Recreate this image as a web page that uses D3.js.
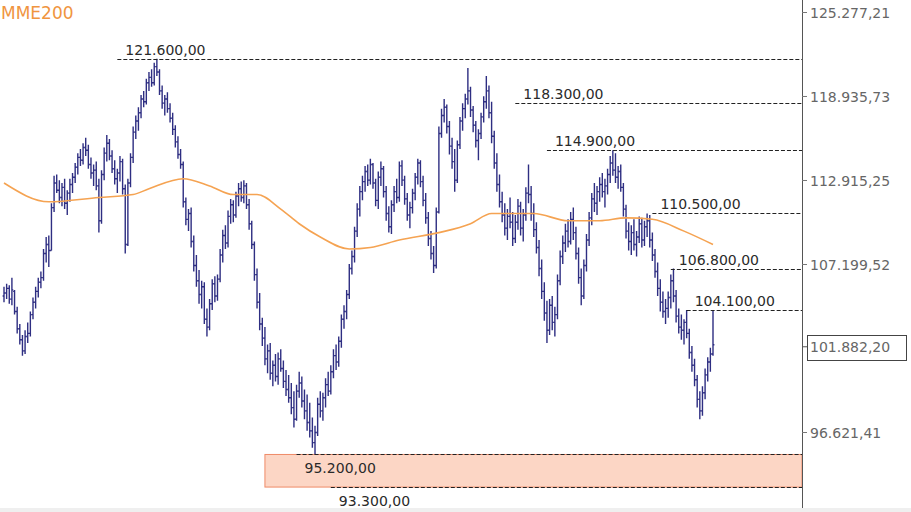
<!DOCTYPE html>
<html><head><meta charset="utf-8">
<script src="https://cdn.jsdelivr.net/npm/d3@7"></script>
<style>body{margin:0;background:#fff}svg{display:block}</style>
</head><body><svg id="c" width="911" height="512"></svg>
<script>
// OHLC values in thousands of points
const high=[105.6,105.8,105.7,106.2,105.4,104.3,103.2,102.5,102.8,103.3,
104.0,104.9,105.6,106.2,106.6,108.1,108.9,109.0,111.2,113.1,
113.2,112.8,112.6,112.9,112.1,112.9,113.3,114.0,114.7,115.0,
115.4,115.8,115.3,114.4,113.9,114.1,112.9,113.5,115.1,116.0,
115.7,114.9,114.2,113.6,114.5,114.3,112.5,112.9,114.7,116.6,
117.4,118.0,118.9,119.2,120.1,120.6,120.8,121.3,121.6,120.8,
119.6,118.9,119.1,118.3,117.6,116.7,115.9,115.0,114.1,111.6,
110.8,110.9,109.0,107.7,106.7,106.0,105.9,104.2,104.8,106.1,
106.3,106.4,108.1,109.4,109.7,110.7,111.5,111.4,112.0,112.6,
112.7,112.8,112.6,111.5,110.0,108.6,106.8,105.2,103.6,103.0,
101.9,102.0,100.9,101.3,101.4,101.6,100.9,100.3,100.0,99.5,
99.0,99.4,100.2,99.9,99.1,98.8,98.3,97.4,96.9,98.6,
99.0,98.9,99.8,100.2,100.6,101.6,101.9,102.4,103.8,104.4,
105.4,107.1,108.0,109.6,111.2,112.4,113.1,113.8,113.9,114.3,
114.0,112.9,113.4,114.1,113.8,112.4,111.0,111.4,112.4,112.9,
114.1,114.2,113.1,111.9,111.3,112.2,113.3,114.3,114.2,113.1,
111.9,110.6,109.3,108.3,110.9,116.6,117.9,118.6,118.2,117.0,
115.8,115.0,115.6,117.3,118.3,119.0,120.9,119.5,118.1,117.0,
116.4,117.6,118.8,120.3,119.6,118.4,116.3,114.7,113.2,112.0,
111.2,110.8,111.6,110.6,110.4,111.5,111.3,110.8,112.3,113.9,
112.4,111.2,109.9,108.7,107.4,105.9,104.7,104.8,105.0,104.3,
106.4,108.0,109.0,109.8,110.1,110.6,110.9,109.6,108.2,106.8,
107.4,109.1,110.6,111.9,112.6,112.4,113.0,113.3,112.9,113.6,
114.5,114.9,114.7,113.8,113.9,112.6,111.1,109.9,109.7,110.1,
109.3,110.3,110.2,110.0,110.5,110.4,109.2,108.1,107.2,106.1,
105.3,104.8,105.3,106.4,106.8,105.4,104.2,103.8,103.5,104.1,
102.9,101.8,101.0,100.0,99.0,99.3,100.4,101.1,101.7,104.1];
const low=[104.6,104.8,104.5,104.4,103.8,102.6,101.9,101.2,101.3,102.0,
102.4,103.5,104.2,104.9,105.5,106.0,107.2,106.9,108.0,110.6,
111.9,111.2,111.0,110.8,110.4,111.3,111.9,112.6,113.2,113.8,
113.9,114.5,113.6,112.9,112.4,112.1,109.2,109.8,112.8,114.1,
114.2,113.3,112.5,111.9,112.7,111.8,107.8,108.3,112.3,114.0,
115.7,116.3,117.2,118.0,118.2,119.2,119.5,119.6,120.3,118.9,
117.9,117.4,117.6,116.9,116.0,115.1,114.3,113.6,110.9,109.7,
109.3,108.2,106.6,105.6,104.5,104.2,103.2,102.4,102.8,104.1,
104.6,104.7,105.9,107.2,108.1,108.2,109.8,109.9,110.2,111.0,
111.3,111.2,110.8,109.4,108.1,106.0,104.2,102.8,101.8,100.6,
100.1,99.7,99.3,99.6,99.4,100.2,99.2,98.7,98.3,97.6,
96.8,97.2,98.6,98.0,97.3,96.6,96.2,95.6,95.2,96.3,
97.4,97.2,98.0,98.7,98.8,99.8,100.3,100.5,101.7,102.9,
103.5,104.8,106.4,107.2,108.9,110.3,111.4,112.0,112.4,112.5,
112.2,111.0,110.8,112.4,111.6,110.0,109.2,109.1,110.6,111.2,
111.3,112.4,111.1,110.0,109.5,110.5,111.4,112.5,112.3,111.0,
109.8,108.3,107.4,106.5,106.8,110.5,115.8,116.9,116.1,114.6,
113.6,112.0,112.6,115.0,116.3,117.2,118.2,117.3,116.2,115.1,
114.2,115.7,116.9,117.9,117.2,115.4,113.6,112.0,110.9,109.9,
109.0,108.7,109.5,108.3,108.5,109.4,109.0,108.6,110.0,111.2,
110.0,108.9,107.8,106.3,104.8,103.4,102.0,102.5,102.8,102.4,
103.5,105.7,107.1,107.9,108.2,108.4,108.7,107.4,105.8,104.4,
104.8,106.6,108.3,109.7,110.6,110.4,111.3,111.6,110.9,111.8,
112.6,113.1,112.6,112.2,112.0,110.3,108.8,108.0,107.7,108.0,
107.6,108.5,108.2,108.3,108.9,108.2,107.3,106.2,105.0,104.0,
103.6,103.2,103.6,104.2,104.6,103.3,102.6,102.2,101.9,102.3,
101.0,100.2,99.3,98.0,97.3,97.5,98.5,99.6,100.2,101.2];
const open=[105.0,105.2,105.5,104.8,105.3,104.0,102.9,102.2,101.5,102.4,
102.6,103.8,104.6,105.3,105.9,106.2,107.8,108.4,108.0,110.9,
112.6,112.1,111.6,112.3,111.2,111.9,112.5,113.0,113.7,114.4,
114.2,115.1,114.9,113.9,113.3,113.5,112.4,110.0,113.2,114.7,
115.4,114.5,113.6,112.9,113.3,114.1,112.2,108.4,112.6,114.4,
116.2,117.0,117.6,118.6,118.4,119.8,120.2,119.8,121.0,120.6,
119.2,118.3,118.6,117.9,117.2,116.4,115.5,114.6,113.9,111.3,
110.1,110.5,108.6,107.0,106.0,105.1,105.6,103.5,103.0,104.5,
105.8,105.0,106.1,107.7,109.0,108.5,110.3,111.1,110.4,111.7,
112.2,111.6,112.4,111.1,109.8,108.4,106.4,104.6,103.2,102.3,
101.0,101.5,100.1,100.6,99.9,101.0,100.4,99.6,99.1,98.6,
98.0,97.3,99.0,99.5,98.4,97.8,97.1,96.6,95.9,96.5,
98.2,97.8,98.6,99.4,99.0,100.2,101.2,100.8,102.1,103.5,
104.0,105.1,106.8,107.6,109.3,110.8,112.0,112.7,113.4,112.8,
113.9,112.6,111.4,113.0,113.6,112.0,110.5,109.6,111.1,112.0,
111.6,113.8,112.8,111.5,110.4,110.9,111.9,113.0,114.0,112.7,
111.4,110.2,108.8,107.8,107.0,110.6,116.1,117.4,118.0,116.6,
115.2,114.1,112.8,115.3,117.0,117.9,118.6,119.2,117.8,116.7,
115.6,116.1,117.3,118.4,119.2,117.6,115.9,114.0,112.5,111.3,
110.4,109.5,110.3,109.9,108.8,109.9,111.0,109.5,110.4,111.9,
111.8,110.5,109.4,108.2,106.8,105.3,103.9,102.8,104.4,103.3,
103.8,106.0,107.6,108.5,109.3,108.6,110.1,109.2,107.8,106.2,
105.0,107.0,108.7,110.2,111.5,111.2,112.0,112.5,112.0,112.4,
113.2,114.0,113.5,113.0,113.4,112.3,110.8,109.3,108.6,109.2,
108.4,108.9,109.8,108.7,109.6,110.0,108.7,107.7,106.6,105.5,
104.6,104.0,104.2,104.9,106.0,105.0,103.7,103.0,102.8,103.3,
102.6,101.4,100.6,99.7,98.5,97.8,98.9,100.0,100.8,101.3];
const close=[105.2,105.5,104.8,105.4,104.0,102.9,102.2,101.5,102.4,102.6,
103.8,104.6,105.3,105.9,106.2,107.8,108.4,108.0,110.9,112.6,
112.1,111.6,112.3,111.2,111.9,112.5,113.0,113.7,114.4,114.2,
115.1,114.9,113.9,113.3,113.5,112.4,110.0,113.2,114.7,115.4,
114.5,113.6,112.9,113.3,114.1,112.2,108.4,112.6,114.4,116.2,
117.0,117.6,118.6,118.4,119.8,120.2,119.8,121.0,120.6,119.2,
118.3,118.6,117.9,117.2,116.4,115.5,114.6,113.9,111.3,110.1,
110.5,108.6,107.0,106.0,105.1,105.6,103.5,103.0,104.5,105.8,
105.0,106.1,107.7,109.0,108.5,110.3,111.1,110.4,111.7,112.2,
111.6,112.4,111.1,109.8,108.4,106.4,104.6,103.2,102.3,101.0,
101.5,100.1,100.6,99.9,101.0,100.4,99.6,99.1,98.6,98.0,
97.3,99.0,99.5,98.4,97.8,97.1,96.6,95.9,96.5,98.2,
97.8,98.6,99.4,99.0,100.2,101.2,100.8,102.1,103.5,104.0,
105.1,106.8,107.6,109.3,110.8,112.0,112.7,113.4,112.8,113.9,
112.6,111.4,113.0,113.6,112.0,110.5,109.6,111.1,112.0,111.6,
113.8,112.8,111.5,110.4,110.9,111.9,113.0,114.0,112.7,111.4,
110.2,108.8,107.8,107.0,110.6,116.1,117.4,118.0,116.6,115.2,
114.1,112.8,115.3,117.0,117.9,118.6,119.2,117.8,116.7,115.6,
116.1,117.3,118.4,119.2,117.6,115.9,114.0,112.5,111.3,110.4,
109.5,110.3,109.9,108.8,109.9,111.0,109.5,110.4,111.9,111.8,
110.5,109.4,108.2,106.8,105.3,103.9,102.8,104.4,103.3,103.8,
106.0,107.6,108.5,109.3,108.6,110.1,109.2,107.8,106.2,105.0,
107.0,108.7,110.2,111.5,111.2,112.0,112.5,112.0,112.4,113.2,
114.0,113.5,113.0,113.4,112.3,110.8,109.3,108.6,109.2,108.4,
108.9,109.8,108.7,109.6,110.0,108.7,107.7,106.6,105.5,104.6,
104.0,104.2,104.9,106.0,105.0,103.7,103.0,102.8,103.3,102.6,
101.4,100.6,99.7,98.5,97.8,98.9,100.0,100.8,101.3,101.88];

// MME200 readings (bar index, value in thousands)
const mmeIdx=[0,17,36,49,55,68,78,87,96,105,112,120,131,139,150,165,177,185,201,214,226,236,246,258,269];
const mmeVal=[112.6,111.3,111.6,111.8,112.2,112.9,112.4,111.8,111.8,110.8,109.8,108.9,108.1,108.2,108.7,109.2,109.8,110.5,110.5,110.0,110.0,110.2,110.1,109.3,108.4];

const levels=[121600,118300,114900,110500,106800,104100,95200,93300];
const levelFrom=[43,194,206,246,253,259,111,124];
const levelBelow=[false,false,false,false,false,false,true,true];
const zoneVals=[95200,93300];
const zoneFrom=99;
const tickVals=[125277.21,118935.73,112915.25,107199.52,96621.41];
const lastPrice=101882.20;
const legendLabel="MME200";

const loc=d3.formatLocale({decimal:",",thousands:".",grouping:[3],currency:["R$",""]});
const fmt=loc.format(",.2f");

const svg=d3.select("#c");
const W=911,H=512,axisX=802;
const n=close.length;
const x=d3.scaleLinear().domain([0,n-1]).range([4,713]);
const y=d3.scaleLog().domain([96621.41,125277.21]).range([430.5,10.5]);
const K=1000;
const font="'DejaVu Sans', Verdana, sans-serif";

svg.append("rect").attr("x",0).attr("y",0).attr("width",W).attr("height",H).attr("fill","#fff");
svg.append("rect").attr("x",0).attr("y",508).attr("width",W).attr("height",4).attr("fill","#efefef");

// zone
svg.append("rect")
  .attr("x",x(zoneFrom)).attr("y",y(zoneVals[0]))
  .attr("width",axisX-x(zoneFrom)).attr("height",y(zoneVals[1])-y(zoneVals[0]))
  .attr("fill","#fcd6c5").attr("stroke","#ef8a68").attr("stroke-width",1);

// bars
const bars=svg.append("g").attr("stroke","#2e2e82").attr("stroke-width",1.4).attr("fill","none");
bars.selectAll("path").data(d3.range(n)).join("path")
  .attr("d",i=>{
    const xi=x(i);
    return `M${xi},${y(high[i]*K)}V${y(low[i]*K)}M${xi-1.4},${y(open[i]*K)}H${xi}M${xi},${y(close[i]*K)}H${xi+1.4}`;
  });

// MME200
const line=d3.line().x(d=>x(d[0])).y(d=>y(d[1]*K)).curve(d3.curveMonotoneX);
svg.append("path").datum(mmeIdx.map((d,i)=>[d,mmeVal[i]]))
  .attr("d",line).attr("fill","none").attr("stroke","#f5a352").attr("stroke-width",1.6);

// level lines
const lv=svg.append("g");
levels.forEach((v,i)=>{
  const yy=Math.round(y(v))+0.5;
  lv.append("line").attr("x1",x(levelFrom[i])).attr("x2",axisX).attr("y1",yy).attr("y2",yy)
    .attr("stroke","#222").attr("stroke-width",1.2).attr("stroke-dasharray","4,2");
  lv.append("text").attr("x",x(levelFrom[i])+8).attr("y",levelBelow[i]?yy+18:yy-5)
    .attr("font-family",font).attr("font-size",14).attr("fill","#2a2a2a").text(fmt(v));
});

// axis
svg.append("line").attr("x1",axisX+0.5).attr("x2",axisX+0.5).attr("y1",0).attr("y2",508)
  .attr("stroke","#555").attr("stroke-width",1);
const ax=svg.append("g");
tickVals.forEach(v=>{
  const yy=y(v)+2;
  ax.append("line").attr("x1",axisX).attr("x2",axisX+5).attr("y1",yy).attr("y2",yy).attr("stroke","#777");
  ax.append("text").attr("x",810).attr("y",yy).attr("dy","0.36em")
    .attr("font-family",font).attr("font-size",14).attr("fill","#666").text(fmt(v));
});
{
  const yy=y(lastPrice)+2;
  ax.append("line").attr("x1",axisX).attr("x2",axisX+5).attr("y1",yy).attr("y2",yy).attr("stroke","#555");
  ax.append("rect").attr("x",807.5).attr("y",Math.round(yy-12)+0.5).attr("width",99).attr("height",25)
    .attr("fill","#fff").attr("stroke","#444");
  ax.append("text").attr("x",810).attr("y",yy).attr("dy","0.36em")
    .attr("font-family",font).attr("font-size",14).attr("fill","#666").text(fmt(lastPrice));
}

// legend
svg.append("text").attr("x",1).attr("y",19).attr("font-family",font).attr("font-size",17)
  .attr("fill","#f0953f").text(legendLabel);
</script></body></html>
